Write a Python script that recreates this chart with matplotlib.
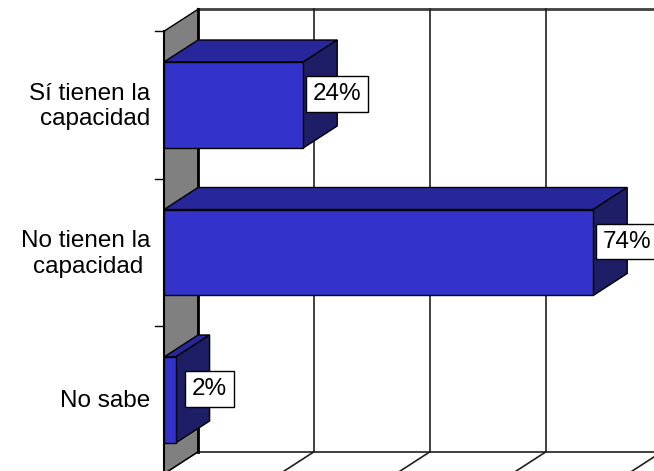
import matplotlib
matplotlib.use("Agg")
import matplotlib.pyplot as plt
from matplotlib.patches import Polygon, Rectangle

# ---- data ----
categories = ["Sí tienen la\ncapacidad", "No tienen la\ncapacidad ", "No sabe"]
values = [24, 74, 2]
value_labels = [f"{v}%" for v in values]
grid_ticks = [0, 20, 40, 60, 80]

# ---- style / layout ----
FRONT = "#3333CC"
TOP = "#27279B"
SIDE = "#1E1E66"
WALL = "#808080"
PX_X = 5.8          # pixels per percent
PX_Y = 147.5        # pixels per category
X0_PX, Y0_PX = 164, 105
W, H = 654, 471
DX = 34 / PX_X      # depth offset in data units
DY = -22 / PX_Y
BAR_H = 0.583
FS = 17.5

plt.rcParams["font.family"] = ["Liberation Sans", "DejaVu Sans"]

fig = plt.figure(figsize=(W / 100, H / 100), dpi=100)
ax = fig.add_axes([0, 0, 1, 1])
ax.set_xlim(-X0_PX / PX_X, (W - X0_PX) / PX_X)
ax.set_ylim((H - Y0_PX) / PX_Y, -Y0_PX / PX_Y)
ax.axis("off")

n = len(categories)
y_top = -0.5
y_bot = n - 0.5
x_right = ax.get_xlim()[1] + 5

# back wall lines
ax.plot([DX, x_right], [y_top + DY, y_top + DY], color="#404040", lw=2.0, zorder=1)
ax.plot([DX, x_right], [y_bot + DY, y_bot + DY], color="#202020", lw=1.2, zorder=1)
for t in grid_ticks:
    ax.plot([t + DX, t + DX], [y_top + DY, y_bot + DY], color="#202020",
            lw=1.6 if t == 0 else 1.2, zorder=1)
    ax.plot([t + DX, t], [y_bot + DY, y_bot], color="#202020", lw=1.2, zorder=1)

# left wall
wall = Polygon([(0, y_top), (DX, y_top + DY), (DX, y_bot + DY), (0, y_bot)],
               closed=True, facecolor=WALL, edgecolor="black", lw=1.0, zorder=2)
ax.add_patch(wall)
ax.plot([DX, DX], [y_top + DY, y_bot + DY], color="black", lw=2.0, zorder=2)
ax.plot([0, 0], [y_top, y_bot + 0.2], color="black", lw=1.5, zorder=2)

# tick marks
for k in range(n + 1):
    yb = k - 0.5
    ax.plot([-9 / PX_X, 0], [yb, yb], color="black", lw=1.0, zorder=2)

# bars
for i, v in enumerate(values):
    y0 = i - BAR_H / 2
    y1 = i + BAR_H / 2
    top = Polygon([(0, y0), (v, y0), (v + DX, y0 + DY), (DX, y0 + DY)], closed=True,
                  facecolor=TOP, edgecolor="black", lw=1.0, zorder=3)
    side = Polygon([(v, y0), (v + DX, y0 + DY), (v + DX, y1 + DY), (v, y1)], closed=True,
                   facecolor=SIDE, edgecolor="black", lw=1.0, zorder=3)
    front = Rectangle((0, y0), v, BAR_H, facecolor=FRONT, edgecolor="black", lw=1.0, zorder=4)
    ax.add_patch(top)
    ax.add_patch(side)
    ax.add_patch(front)
    ax.text(v + DX, i + DY / 2, value_labels[i], ha="center", va="center",
            fontsize=FS, color="black", zorder=6,
            bbox=dict(boxstyle="square,pad=0.28", facecolor="white", edgecolor="black", lw=1.0))

# category labels
for i, c in enumerate(categories):
    ax.text(-14 / PX_X, i + 0.01, c, ha="right", va="center", multialignment="right",
            fontsize=FS, color="black", linespacing=1.2, zorder=5)

fig.savefig("out.png", dpi=100)
